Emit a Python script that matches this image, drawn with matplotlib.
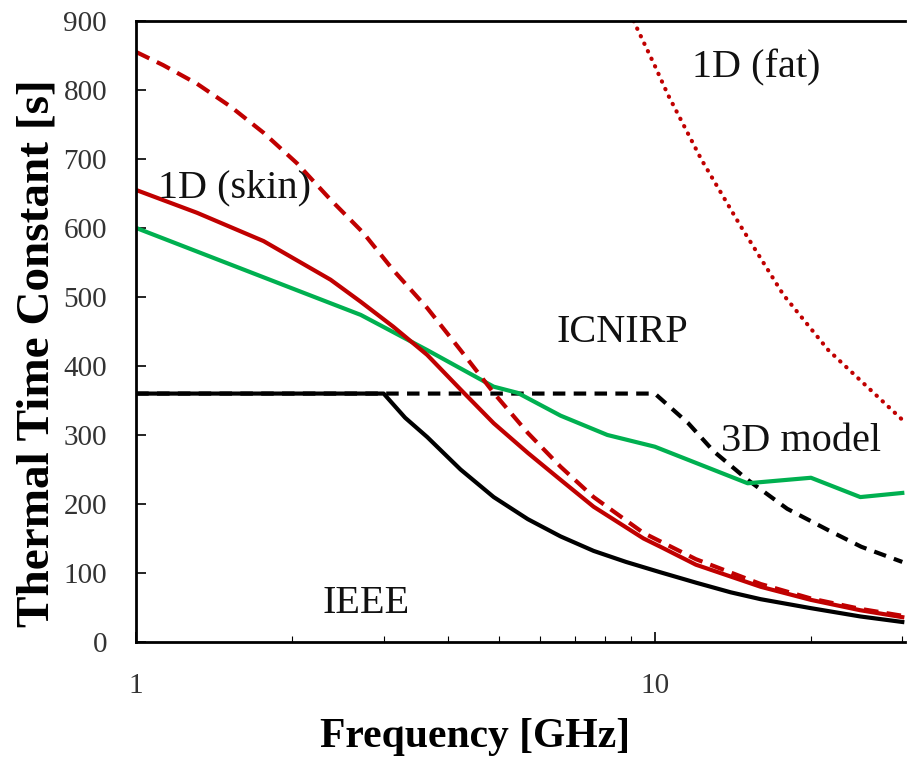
import matplotlib.pyplot as plt

plt.rcParams['font.family'] = ['Liberation Serif', 'DejaVu Serif']

# frequency [GHz] and thermal time constants [s]
f_skin = [1, 1.31, 1.76, 2.37, 2.71, 3.13, 3.64, 4.22, 4.89, 5.69, 6.58, 7.62, 9.51, 10.25, 12, 16, 20, 24.9, 30]
skin = [655, 622, 581, 525, 493, 457, 416, 366, 317, 274, 235, 196, 150, 138, 112, 80, 61, 46, 36]

f_skin2 = [1, 1.127, 1.31, 1.52, 1.76, 2.04, 2.37, 2.74, 3.13, 3.64, 4.22, 4.89, 5.69, 6.58, 7.62, 9.51, 12, 16, 20, 24.9, 30]
skin2 = [855, 836, 809, 776, 738, 694, 641, 593, 539, 484, 423, 361, 303, 254, 210, 158, 120, 84, 63, 48, 38]

f_fat = [9.1, 10, 10.6, 12.3, 14.6, 17.7, 21.6, 25, 30]
fat = [900, 835, 793, 699, 604, 503, 423, 378, 322]

f_3d = [1, 2.07, 2.71, 3.64, 4.89, 5.44, 6.58, 8.1, 10, 15.1, 20, 24.9, 30]
model3d = [600, 508, 474, 423, 370, 361, 328, 300, 283, 230, 238, 210, 216]

f_ieee = [1, 3, 3.3, 3.64, 4.22, 4.89, 5.69, 6.58, 7.62, 8.8, 10.25, 12, 14, 16, 20, 24.9, 30]
ieee = [360, 360, 325, 297, 250, 210, 178, 153, 132, 116, 101, 86, 72, 62, 49, 37, 29]

f_icnirp = [1, 10, 11.6, 13, 15.1, 18, 21.6, 25, 30]
icnirp = [360, 360, 317, 276, 235, 193, 162, 138, 116]

red = '#C00000'
green = '#00B050'

fig = plt.figure(figsize=(9.08, 7.62), dpi=100)
ax = fig.add_axes([0.150, 0.1575, 0.847, 0.815])

ax.plot(f_icnirp, icnirp, color='black', lw=3, dashes=(3, 2))
ax.plot(f_ieee, ieee, color='black', lw=3)
ax.plot(f_3d, model3d, color=green, lw=3)
ax.plot(f_skin2, skin2, color=red, lw=3, dashes=(3.5, 2))
ax.plot(f_skin, skin, color=red, lw=3)
ax.plot(f_fat, fat, color=red, lw=3, dashes=(0.1, 1.9), dash_capstyle='round')

ax.set_xscale('log')
ax.set_xlim(1, 30.4)
ax.set_ylim(0, 900)
ax.set_yticks(range(0, 1000, 100))
ax.set_xticks([1, 10])
ax.set_xticklabels(['1', '10'])

ax.tick_params(axis='both', which='major', direction='in', length=7, width=1.2,
               labelsize=21, labelcolor='#333333')
ax.tick_params(axis='y', pad=21)
ax.tick_params(axis='x', pad=22)
ax.tick_params(axis='x', which='minor', direction='in', length=4, width=0.8)

ax.spines['right'].set_visible(False)
for s in ['left', 'bottom', 'top']:
    ax.spines[s].set_linewidth(2)

ax.set_xlabel('Frequency [GHz]', fontsize=30, fontweight='bold', va='center')
ax.xaxis.set_label_coords(0.441, -0.153)
ax.set_ylabel('Thermal Time Constant [s]', fontsize=34, fontweight='bold', va='center')
ax.yaxis.set_label_coords(-0.128, 0.465)

txt = dict(fontsize=29, ha='center', va='center', color='#111111')
ax.text(1.55, 658, '1D (skin)', **txt)
ax.text(15.7, 832, '1D (fat)', **txt)
ax.text(8.64, 449, 'ICNIRP', **txt)
ax.text(19.1, 291, '3D model', **txt)
ax.text(2.77, 56, 'IEEE', **txt)

fig.savefig('out.png', dpi=100)
